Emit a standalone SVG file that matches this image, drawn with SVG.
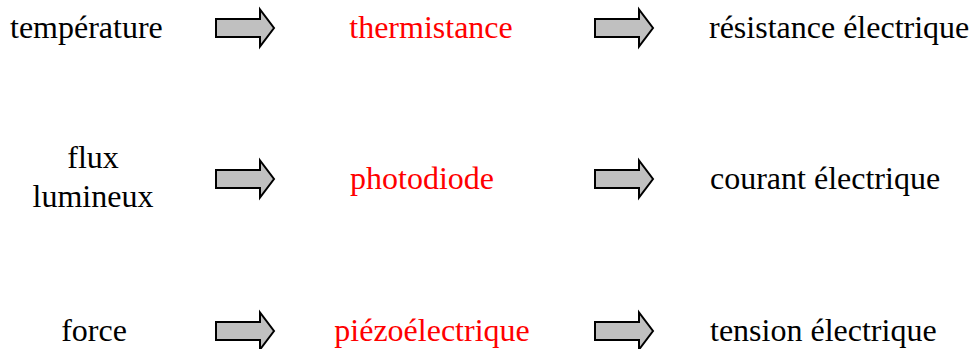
<svg xmlns="http://www.w3.org/2000/svg" xmlns:xlink="http://www.w3.org/1999/xlink" width="972" height="349" viewBox="0 0 972 349">
  <style>
    text { font-family: "Liberation Serif", "Times New Roman", serif; font-size: 32px; fill: #000; }
    text.red { fill: #ff0000; }
    .arrow { fill: #c0c0c0; stroke: #000; stroke-width: 2; stroke-linejoin: miter; }
  </style>
  <defs>
    <!-- block arrow, origin at left end of the shaft centreline -->
    <path id="blk" class="arrow" d="M0,-9 H44 V-18.5 L58,0 L44,18.5 V9 H0 Z"/>
  </defs>
  <rect width="972" height="349" fill="#fff"/>

  <g id="connectors">
    <use xlink:href="#blk" x="216" y="28"/>
    <use xlink:href="#blk" x="595" y="28"/>
    <use xlink:href="#blk" x="216" y="179"/>
    <use xlink:href="#blk" x="595" y="179"/>
    <use xlink:href="#blk" x="216" y="331"/>
    <use xlink:href="#blk" x="595" y="331"/>
  </g>

  <!-- row 1 -->
  <g id="temperature"><text x="10" y="38">température</text></g>
  <g id="thermistance"><text class="red" x="431" y="38" text-anchor="middle">thermistance</text></g>
  <g id="resistance"><text x="709" y="38">résistance électrique</text></g>

  <!-- row 2 -->
  <g id="flux">
    <text x="93" y="168" text-anchor="middle">flux</text>
    <text x="93" y="207" text-anchor="middle">lumineux</text>
  </g>
  <g id="photodiode"><text class="red" x="422" y="189" text-anchor="middle">photodiode</text></g>
  <g id="courant"><text x="710" y="189">courant électrique</text></g>

  <!-- row 3 -->
  <g id="force"><text x="94" y="341" text-anchor="middle">force</text></g>
  <g id="piezo"><text class="red" x="432" y="341" text-anchor="middle">piézoélectrique</text></g>
  <g id="tension"><text x="710" y="341">tension électrique</text></g>
</svg>
